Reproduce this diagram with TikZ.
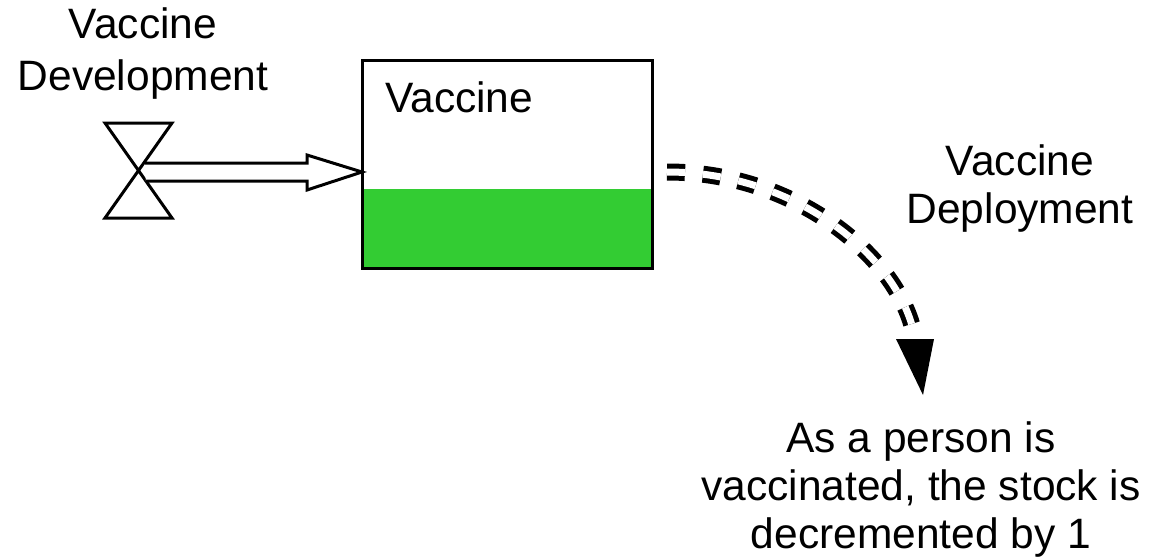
\documentclass[tikz,border=0pt]{standalone}
\usepackage{fontspec}
\setmainfont{Liberation Sans}
\definecolor{stockgreen}{RGB}{51,204,51}
\begin{document}
\begin{tikzpicture}[x=1pt,y=-1pt,
  label text/.style={align=center, inner sep=0pt},
  big/.style={font=\fontsize{42.5}{#1}\selectfont},
  outline/.style={draw=black, line width=3pt, line join=miter},
  info flow/.style={draw=black, line width=5pt, double=white, double distance=7pt,
    dash pattern=on 18pt off 18pt}]
\useasboundingbox (0,0) rectangle (1149,557);

% stock with its level
\node[minimum width=290pt, minimum height=208pt, inner sep=0pt, anchor=north west]
  (stock) at (362,60) {};
\fill[stockgreen] (363.5,189) rectangle (650.5,266.5);
\draw[outline] (stock.north west) rectangle (stock.south east);
\node[label text, big=50, anchor=base west] (stockname) at (385,112) {Vaccine};

% inflow valve (bow tie)
\coordinate (v1) at (105,123);
\coordinate (v2) at (172,123);
\coordinate (v3) at (105,218);
\coordinate (v4) at (172,218);
\draw[outline] (v1) -- (v2) -- (v3) -- (v4) -- cycle;
\node[label text, big=52, anchor=base] (devname) at (143,90) {Vaccine\\Development};

% hollow flow pipe into the stock
\coordinate (tip) at (stock.west |- 0,172);
\draw[outline, fill=white] (144,163) -- (307,163) -- (307,155) -- (tip)
  -- (307,190) -- (307,181) -- (146,181);

% deployment flow leaving the stock
\coordinate (out) at (667,172);
\coordinate (end) at (915,339);
\draw[info flow] (out) .. controls (800,172) and (903,262) .. (end);
\fill[black] (896,339) -- (934,339) -- (923,395) -- cycle;
\node[label text, big=48, anchor=base] (depname) at (1020,223) {Vaccine\\Deployment};

\node[label text, big=48, anchor=base] (note) at (921,548)
  {As a person is\\vaccinated, the stock is\\decremented by 1};
\end{tikzpicture}
\end{document}
